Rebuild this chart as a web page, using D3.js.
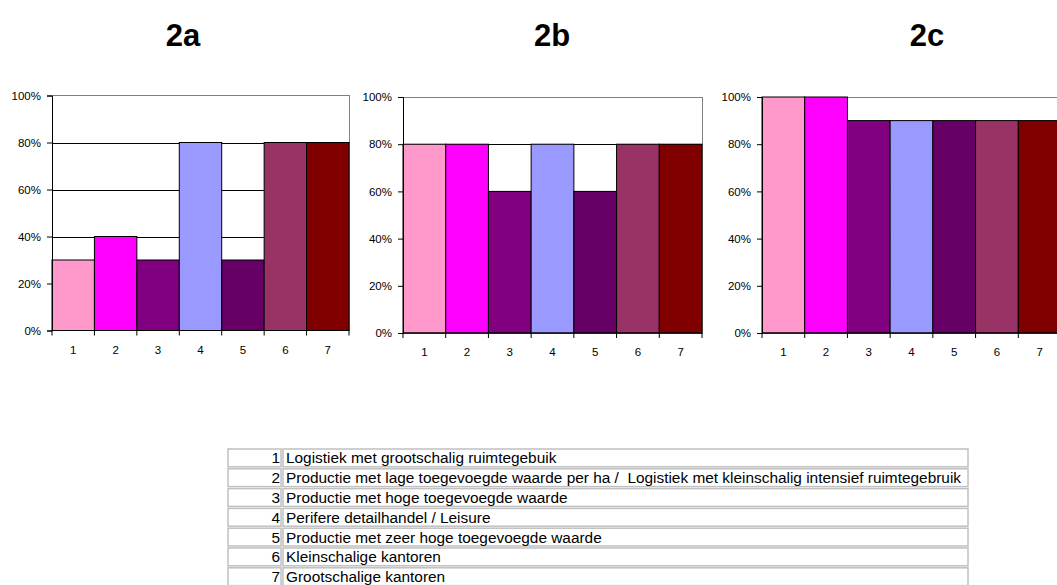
<!DOCTYPE html>
<html>
<head>
<meta charset="utf-8">
<script src="https://cdn.jsdelivr.net/npm/d3@7"></script>
<style>
html,body{margin:0;padding:0;background:#fff;overflow:hidden;}
svg{display:block;font-family:Arial,"Liberation Sans",sans-serif;}
</style>
</head>
<body>
<svg id="chart" width="1057" height="585"></svg>
<script>
// ---- data ----
const categories = ["1","2","3","4","5","6","7"];
const panelTitles = ["2a","2b","2c"];
const values2a = [30,40,30,80,30,80,80];
const values2b = [80,80,60,80,60,80,80];
const values2c = [100,100,90,90,90,90,90];
const yTickValues = [0,20,40,60,80,100];
const barColors = ["#FF99CC","#FF00FF","#800080","#9999FF","#660066","#993366","#800000"];
const tableNumbers = ["1","2","3","4","5","6","7"];
const tableLabels = [
  "Logistiek met grootschalig ruimtegebuik",
  "Productie met lage toegevoegde waarde per ha /  Logistiek met kleinschalig intensief ruimtegebruik",
  "Productie met hoge toegevoegde waarde",
  "Perifere detailhandel / Leisure",
  "Productie met zeer hoge toegevoegde waarde",
  "Kleinschalige kantoren",
  "Grootschalige kantoren"
];

// ---- layout ----
const panels = [
  {title: panelTitles[0], values: values2a, left: 52, right: 349, top: 95.5, bottom: 330.5, titleX: 183},
  {title: panelTitles[1], values: values2b, left: 403, right: 702, top: 97, bottom: 333, titleX: 552},
  {title: panelTitles[2], values: values2c, left: 762, right: 1061, top: 97, bottom: 333, titleX: 927}
];

const svg = d3.select("#chart");

panels.forEach(p => {
  const g = svg.append("g");
  const x = d3.scaleBand().domain(categories).range([p.left, p.right]).paddingInner(0).paddingOuter(0);
  const y = d3.scaleLinear().domain([0,100]).range([p.bottom, p.top]);

  g.append("text").attr("x", p.titleX).attr("y", 46)
    .attr("text-anchor","middle").attr("font-size", 31).attr("font-weight","bold")
    .attr("fill","#000").text(p.title);

  g.append("rect").attr("x", p.left).attr("y", y(100))
    .attr("width", p.right - p.left).attr("height", y(0) - y(100))
    .attr("fill","#fff").attr("stroke","#808080").attr("stroke-width",1)
    .attr("shape-rendering","crispEdges");

  g.selectAll(".grid").data(yTickValues.filter(v => v > 0 && v < 100)).enter()
    .append("line")
    .attr("x1", p.left).attr("x2", p.right)
    .attr("y1", d => Math.round(y(d)) + 0.5).attr("y2", d => Math.round(y(d)) + 0.5)
    .attr("stroke","#000").attr("stroke-width",1);

  g.selectAll(".bar").data(p.values).enter().append("rect")
    .attr("x", (d,i) => x(categories[i]))
    .attr("y", d => y(d))
    .attr("width", x.bandwidth())
    .attr("height", d => y(0) - y(d))
    .attr("fill", (d,i) => barColors[i])
    .attr("stroke","#000").attr("stroke-width",1);

  const yAxis = d3.axisLeft(y).tickValues(yTickValues).tickSize(5).tickPadding(6)
    .tickFormat(d => d + "%");
  const ya = g.append("g").attr("transform", `translate(${p.left},0)`).call(yAxis);
  ya.select(".domain").attr("stroke","#000");
  ya.selectAll(".tick line").attr("stroke","#000");
  ya.selectAll("text").attr("font-size", 11.5).attr("font-family","Arial,'Liberation Sans',sans-serif").attr("fill","#000");

  const xa = g.append("g").attr("transform", `translate(0,${p.bottom})`);
  xa.append("line").attr("x1", p.left).attr("x2", p.right).attr("y1",0).attr("y2",0).attr("stroke","#000");
  const bounds = categories.map(c => x(c)).concat([x(categories[categories.length-1]) + x.bandwidth()]);
  xa.selectAll(".xt").data(bounds).enter().append("line")
    .attr("x1", d => d).attr("x2", d => d).attr("y1",0).attr("y2",5).attr("stroke","#000");
  xa.selectAll(".xl").data(categories).enter().append("text")
    .attr("x", d => x(d) + x.bandwidth()/2).attr("y", 23)
    .attr("text-anchor","middle").attr("font-size", 11.5).attr("fill","#000").text(d => d);
});

// ---- table ----
const tLeft = 228, tSep = 283, tRight = 968, tTop = 449, rowH = 19.8, tFont = 15.4;
const tg = svg.append("g");
tableNumbers.forEach((n,i) => {
  const yy = tTop + i*rowH;
  tg.append("rect").attr("x", tLeft).attr("y", yy).attr("width", tSep - tLeft - 2).attr("height", rowH - 2)
    .attr("fill","#fff").attr("stroke","#c0c0c0").attr("stroke-width",1.5);
  tg.append("rect").attr("x", tSep).attr("y", yy).attr("width", tRight - tSep).attr("height", rowH - 2)
    .attr("fill","#fff").attr("stroke","#c0c0c0").attr("stroke-width",1.5);
  tg.append("text").attr("x", tSep - 3).attr("y", yy + rowH/2 + 4.5).attr("text-anchor","end")
    .attr("font-size", tFont).attr("fill","#000").text(n);
  tg.append("text").attr("x", tSep + 3).attr("y", yy + rowH/2 + 4.5)
    .attr("font-size", tFont).attr("fill","#000").style("white-space","pre").text(tableLabels[i]);
});
</script>
</body>
</html>
